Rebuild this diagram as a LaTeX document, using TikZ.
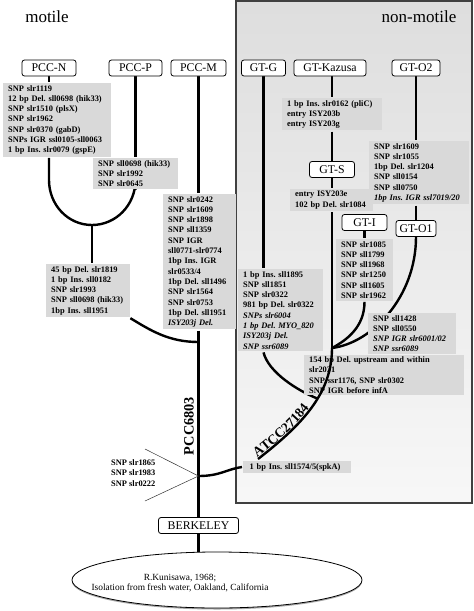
\documentclass[tikz,border=0pt]{standalone}
\usepackage{fontspec}
\setmainfont{Liberation Serif}
\usetikzlibrary{
	shapes,
	shadows,
	backgrounds,
	decorations.text,
	positioning
}
\newcommand\notefont{\fontsize{8.4}{10.3}\selectfont\bfseries\frenchspacing}
\newcommand\atccfont{\fontsize{13.6}{16}\selectfont\bfseries}

\begin{document}
\begin{tikzpicture}
[x=1pt, y=-1pt, line width=2.4pt,
 branch/.style={line width=2.4pt},
 strain/.style={draw, line width=.8pt, rounded corners=2.5pt, fill=white,
   minimum height=16pt, inner sep=0pt, font=\fontsize{11.8}{13}\selectfont},
 note/.style={fill=black!15, anchor=north west, align=left,
   inner xsep=5pt, inner ysep=2pt, font=\notefont},
 tag/.style={font=\fontsize{14.3}{16}\selectfont\bfseries},
 thinline/.style={line width=.5pt, black!80}]
\useasboundingbox (0,0) rectangle (474,611);

\node[font=\fontsize{17}{20}\selectfont] (motile) at (47,17) {motile};
\node[font=\fontsize{17}{20}\selectfont] (nonmotile) at (419,17) {non-motile};

% strains
\node[strain, minimum width=54pt] (pccN) at (49,68) {PCC-N};
\node[strain, minimum width=53pt] (pccP) at (135.5,68) {PCC-P};
\node[strain, minimum width=55pt] (pccM) at (198.5,68) {PCC-M};
\node[strain, minimum width=44pt] (gtG) at (263.5,68) {GT-G};
\node[strain, minimum width=72pt] (gtK) at (330,68) {GT-Kazusa};
\node[strain, minimum width=48pt] (gtO2) at (416,68) {GT-O2};
\node[strain, minimum width=45pt] (gtS) at (332,169.5) {GT-S};
\node[strain, minimum width=45pt] (gtI) at (364.5,222.5) {GT-I};
\node[strain, minimum width=40pt] (gtO1) at (416,228.5) {GT-O1};
\node[strain, minimum width=80pt] (berk) at (198.5,525.5) {BERKELEY};

% mutations
\node[note, text width=98pt] (noteN) at (2,82) {SNP slr1119\\12 bp Del. sll0698 (hik33)\\SNP slr1510 (plsX)\\SNP slr1962\\SNP slr0370 (gabD)\\SNPs IGR ssl0105-sll0063\\1 bp Ins. slr0079 (gspE)};
\node[note, text width=75pt] (noteP) at (92,157) {SNP sll0698 (hik33)\\SNP slr1992\\SNP slr0645};
\node[note, text width=74pt] (noteNP) at (45,263) {45 bp Del. slr1819\\1 bp Ins. sll0182\\SNP slr1993\\SNP sll0698 (hik33)\\1bp Ins. sll1951};
\node[note, text width=63pt] (noteM) at (162,193) {SNP slr0242\\SNP slr1609\\SNP slr1898\\SNP sll1359\\SNP IGR\\sll0771-slr0774\\1bp Ins. IGR\\slr0533/4\\1bp Del. sll1496\\SNP slr1564\\SNP slr0753\\1bp Del. sll1951\\\textit{ISY203j Del.}};
\node[note, text width=90pt] (noteK) at (281,97) {1 bp Ins. slr0162 (pliC)\\entry ISY203b\\entry ISY203g};
\node[note, text width=73pt] (noteS) at (289,188) {entry ISY203e\\102 bp Del. slr1084};
\node[note, text width=90pt] (noteO2) at (368,140) {SNP slr1609\\SNP slr1055\\1bp Del. slr1204\\SNP sll0154\\SNP sll0750\\\textit{1bp Ins. IGR ssl7019/20}};
\node[note, text width=47pt] (noteI) at (335,238) {SNP slr1085\\SNP sll1799\\SNP sll1968\\SNP slr1250\\SNP sll1605\\SNP slr1962};
\node[note, text width=75pt] (noteG) at (237,268) {1 bp Ins. sll1895\\SNP sll1851\\SNP slr0322\\981 bp Del. slr0322\\\textit{SNPs slr6004}\\\textit{1 bp Del. MYO\_820}\\\textit{ISY203j Del.}\\\textit{SNP ssr6089}};
\node[note, text width=78pt] (noteO1) at (367,312) {SNP sll1428\\SNP sll0550\\\textit{SNP IGR slr6001/02}\\\textit{SNP ssr6089}};
\node[note, text width=150pt, inner ysep=1.5pt] (noteAT) at (303,354) {154 bp Del. upstream and within\\slr2031\\SNP ssr1176, SNP slr0302\\SNP IGR before infA};
\node[note, text width=95pt, inner xsep=6.5pt] (noteSpk) at (242,460) {1 bp Ins. sll1574/5(spkA)};
\node[font=\notefont, align=left, anchor=west, inner sep=0pt] (noteRoot) at (110,473) {SNP slr1865\\SNP slr1983\\SNP slr0222};

% origin
\node[ellipse, draw, fill=white, line width=.8pt, minimum width=290pt, minimum height=56pt,
  drop shadow={shadow xshift=0pt, shadow yshift=-1.5pt, opacity=.7}] (ell) at (217,580) {};
\node[font=\fontsize{9.4}{10}\selectfont, align=center] (origin) at (180,583) {R.Kunisawa, 1968;\\Isolation from fresh water, Oakland, California};

\node[tag, rotate=90] (pcc6803) at (189,426) {PCC6803};

\coordinate (uL) at (49,180);
\coordinate (uR) at (135.5,180);
\coordinate (u) at (92,225);
\coordinate (j45) at (198.5,342);
\coordinate (jRoot) at (198.5,476);
\coordinate (rootA) at (145,449);
\coordinate (rootB) at (145,501);
\coordinate (junc) at (332,348);
\coordinate (aEnd) at (258,459);

\draw[branch] (junc) .. controls +(0,45) and +(45,-35) .. coordinate[pos=.42] (merge) (aEnd);
\path[decorate, decoration={text along path, text={|\atccfont|ATCC27184}, raise=1.5pt}]
  (aEnd) .. controls +(45,-35) and +(0,45) .. (junc);

\begin{scope}[on background layer]
\shadedraw[draw=black!75, line width=1.5pt, top color=black!13, bottom color=black!3] (236,1) rectangle (472,503);
\begin{scope}[branch]
\draw (pccN.south) -- (pccN.south |- noteN.north);
\draw (pccN.south |- noteN.south) -- (uL) .. controls +(0,25) and +(-24,0) .. (u) .. controls +(24,0) and +(0,25) .. (uR) -- (pccP.south |- noteP.south);
\draw (pccP.south) -- (pccP.south |- noteP.north);
\draw (u) -- (u |- noteNP.north);
\draw ([xshift=-1pt]noteNP.south east) .. controls +(20,12) and +(-30,0) .. (j45);
\draw (pccM.south) -- (pccM.south |- noteM.north);
\draw (pccM.south |- noteM.south) -- (berk.north);
\draw (berk.south) -- (berk.south |- ell.north);
\draw[thinline] (rootA) -- (jRoot) -- (rootB);
\draw (jRoot) .. controls +(22,0) and +(-15,2) .. (noteSpk.west);
\draw (gtG.south) -- (gtG.south |- noteG.north);
\draw (gtG.south |- noteG.south) .. controls +(5,20) and +(-20,-8) .. (merge);
\draw (gtS |- gtK.south) -- (gtS |- noteK.north);
\draw (gtS |- noteK.south) -- (gtS.north);
\draw (gtS.south) -- (gtS |- noteS.north);
\draw (gtS |- noteS.south) -- (junc);
\draw (gtI.south) -- (gtI.south |- noteI.north);
\draw (gtI.south |- noteI.south) .. controls +(0,25) and +(15,-8) .. (junc);
\draw (gtO2.south) -- (gtO2.south |- noteO2.north);
\draw (gtO2.south |- noteO2.south) -- (gtO1.north);
\draw (gtO1.south) .. controls +(0,60) and +(40,-5) .. (junc);
\end{scope}
\end{scope}
\end{tikzpicture}
\end{document}
